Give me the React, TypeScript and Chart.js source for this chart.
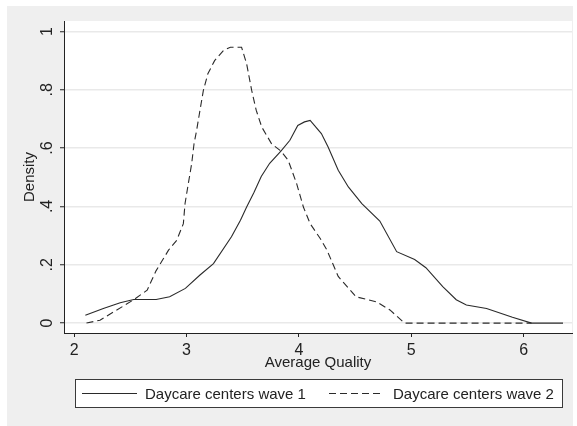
import React, { useEffect, useRef } from 'react';
import { Chart, registerables } from 'chart.js';

Chart.register(...registerables);

const wave1X = [2.10, 2.26, 2.41, 2.53, 2.73, 2.85, 2.99, 3.12, 3.24, 3.40, 3.48, 3.535, 3.60, 3.665, 3.74, 3.84, 3.92, 3.99, 4.05, 4.10, 4.20, 4.26, 4.35, 4.44, 4.56, 4.72, 4.87, 5.03, 5.13, 5.28, 5.40, 5.49, 5.67, 5.90, 6.07, 6.35];
const wave1Y = [0.027, 0.05, 0.07, 0.081, 0.081, 0.09, 0.119, 0.165, 0.204, 0.296, 0.353, 0.398, 0.448, 0.503, 0.548, 0.59, 0.627, 0.678, 0.69, 0.695, 0.65, 0.604, 0.524, 0.467, 0.41, 0.35, 0.245, 0.218, 0.19, 0.125, 0.08, 0.062, 0.05, 0.02, 0.0, 0.0];

const wave2X = [2.11, 2.23, 2.38, 2.53, 2.65, 2.73, 2.84, 2.913, 2.972, 2.987, 3.016, 3.046, 3.067, 3.09, 3.12, 3.15, 3.19, 3.25, 3.33, 3.39, 3.49, 3.535, 3.58, 3.62, 3.67, 3.757, 3.84, 3.905, 3.98, 4.04, 4.10, 4.19, 4.25, 4.35, 4.51, 4.69, 4.81, 4.94, 6.07];
const wave2Y = [0.0, 0.01, 0.045, 0.08, 0.113, 0.18, 0.25, 0.284, 0.341, 0.41, 0.478, 0.547, 0.615, 0.661, 0.73, 0.798, 0.855, 0.90, 0.935, 0.946, 0.946, 0.889, 0.798, 0.73, 0.672, 0.615, 0.59, 0.558, 0.478, 0.398, 0.341, 0.29, 0.25, 0.16, 0.09, 0.073, 0.045, 0.0, 0.0];

const xTicks = [2, 3, 4, 5, 6];
const xTickLabels = ['2', '3', '4', '5', '6'];
const yTicks = [0, 0.2, 0.4, 0.6, 0.8, 1];
const yTickLabels = ['0', '.2', '.4', '.6', '.8', '1'];
const seriesLabels = ['Daycare centers wave 1', 'Daycare centers wave 2'];
const xTitle = 'Average Quality';
const yTitle = 'Density';

const FONT = "'Liberation Sans', Arial, sans-serif";
const INK = '#222222';
const LINE = '#2a2a2a';
const DASH = [7, 4];

const panelPlugin = {
  id: 'panel',
  beforeDraw(chart: any) {
    const { ctx, chartArea } = chart;
    ctx.save();
    ctx.fillStyle = '#ffffff';
    ctx.fillRect(0, 0, chart.width, chart.height);
    ctx.fillStyle = '#efefef';
    ctx.fillRect(7, 6, 566, 420);
    ctx.fillStyle = '#ffffff';
    ctx.fillRect(chartArea.left, chartArea.top, chartArea.right - chartArea.left, chartArea.bottom - chartArea.top);
    ctx.restore();
  },
};

const legendPlugin = {
  id: 'stataLegend',
  afterDraw(chart: any) {
    const { ctx } = chart;
    ctx.save();
    ctx.fillStyle = '#ffffff';
    ctx.fillRect(75.5, 379.5, 487, 28);
    ctx.strokeStyle = '#3a3a3a';
    ctx.lineWidth = 1;
    ctx.strokeRect(75.5, 379.5, 487, 28);
    const y = 393.5;
    ctx.strokeStyle = LINE;
    ctx.beginPath();
    ctx.moveTo(82, y);
    ctx.lineTo(137, y);
    ctx.stroke();
    ctx.setLineDash(DASH);
    ctx.beginPath();
    ctx.moveTo(329, y);
    ctx.lineTo(384, y);
    ctx.stroke();
    ctx.setLineDash([]);
    ctx.fillStyle = INK;
    ctx.font = `15px ${FONT}`;
    ctx.textBaseline = 'middle';
    ctx.textAlign = 'left';
    ctx.fillText(seriesLabels[0], 145, y + 1);
    ctx.fillText(seriesLabels[1], 393, y + 1);
    ctx.restore();
  },
};

export default function App() {
  const ref = useRef<HTMLCanvasElement>(null);
  useEffect(() => {
    if (!ref.current) return;
    const chart = new Chart(ref.current, {
      type: 'line',
      data: {
        datasets: [
          {
            label: seriesLabels[0],
            data: wave1X.map((x, i) => ({ x, y: wave1Y[i] })),
            borderColor: LINE,
            borderWidth: 1.1,
            pointRadius: 0,
            tension: 0,
          },
          {
            label: seriesLabels[1],
            data: wave2X.map((x, i) => ({ x, y: wave2Y[i] })),
            borderColor: LINE,
            borderWidth: 1.1,
            borderDash: DASH,
            pointRadius: 0,
            tension: 0,
          },
        ],
      },
      options: {
        responsive: false,
        animation: false,
        devicePixelRatio: 1,
        layout: { padding: { left: 0, top: 21, right: 5, bottom: 53 } },
        plugins: { legend: { display: false }, tooltip: { enabled: false } },
        scales: {
          x: {
            type: 'linear',
            bounds: 'data',
            min: 1.91,
            max: 6.43,
            afterBuildTicks: (s: any) => {
              s.ticks = xTicks.map((v) => ({ value: v }));
            },
            afterFit: (s: any) => {
              s.height = 40;
            },
            grid: { drawOnChartArea: false, drawTicks: true, tickLength: 4, tickColor: INK, tickWidth: 1 },
            border: { display: true, color: INK, width: 1 },
            ticks: {
              font: { family: FONT, size: 16 },
              color: INK,
              padding: 4,
              maxRotation: 0,
              autoSkip: false,
              callback: (_v: any, i: number) => xTickLabels[i],
            },
            title: {
              display: true,
              text: xTitle,
              font: { family: FONT, size: 15 },
              color: INK,
              padding: { top: 0, bottom: 1 },
            },
          },
          y: {
            type: 'linear',
            bounds: 'data',
            min: -0.034,
            max: 1.036,
            afterBuildTicks: (s: any) => {
              s.ticks = yTicks.map((v) => ({ value: v }));
            },
            afterFit: (s: any) => {
              s.width = 64;
            },
            grid: { color: '#e9e9e9', lineWidth: 1.5, drawTicks: true, tickLength: 4, tickColor: INK, tickWidth: 1 },
            border: { display: true, color: INK, width: 1 },
            ticks: {
              font: { family: FONT, size: 16 },
              color: INK,
              padding: 6,
              minRotation: 90,
              maxRotation: 90,
              crossAlign: 'center',
              autoSkip: false,
              callback: (_v: any, i: number) => yTickLabels[i],
            },
            title: {
              display: true,
              text: yTitle,
              font: { family: FONT, size: 15 },
              color: INK,
              padding: { top: 21, bottom: 0 },
            },
          },
        },
      },
      plugins: [panelPlugin, legendPlugin],
    } as any);
    return () => chart.destroy();
  }, []);
  return (
    <div style={{ position: 'absolute', left: 0, top: 0, width: 577, height: 426 }}>
      <canvas ref={ref} width={577} height={426} style={{ width: 577, height: 426, display: 'block' }} />
    </div>
  );
}
